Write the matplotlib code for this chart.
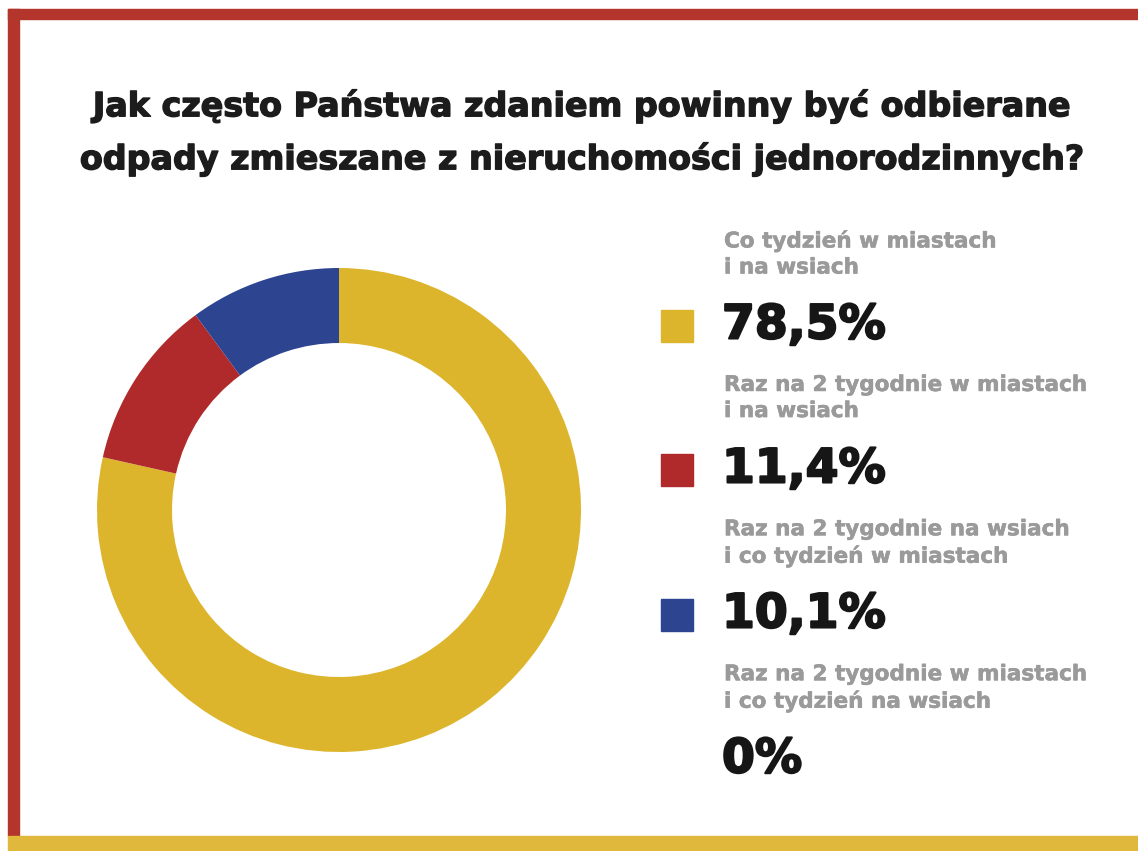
import matplotlib
matplotlib.use("Agg")
import matplotlib.pyplot as plt
from matplotlib.patches import Rectangle
import matplotlib.patheffects as pe

W, H = 1138, 851

title_lines = ["Jak często Państwa zdaniem powinny być odbierane",
               "odpady zmieszane z nieruchomości jednorodzinnych?"]
categories = ["Co tydzień w miastach\ni na wsiach",
              "Raz na 2 tygodnie w miastach\ni na wsiach",
              "Raz na 2 tygodnie na wsiach\ni co tydzień w miastach",
              "Raz na 2 tygodnie w miastach\ni co tydzień na wsiach"]
values = [78.5, 11.4, 10.1, 0.0]
value_labels = ["78,5%", "11,4%", "10,1%", "0%"]
colors = ["#DDB52D", "#B02A2B", "#2D4591", None]

FONT = ["DejaVu Sans"]

fig = plt.figure(figsize=(W / 100, H / 100), dpi=100)
fig.patch.set_facecolor("white")

def px(x, y):
    return x / W, 1 - y / H

# frame: red top and left, yellow bottom
fig.patches.append(Rectangle(px(8, 19), (W - 8) / W, 10 / H, transform=fig.transFigure,
                             color="#B3352B", zorder=0))
fig.patches.append(Rectangle(px(8, 836), 11 / W, 827 / H, transform=fig.transFigure,
                             color="#B3352B", zorder=0))
fig.patches.append(Rectangle(px(8, 851), (W - 8) / W, 15 / H, transform=fig.transFigure,
                             color="#E0B83B", zorder=0))

# title
for i, line in enumerate(title_lines):
    x, y = px(582, 106 + 53 * i)
    fig.text(x, y, line, ha="center", va="center", fontsize=24, fontweight="bold",
             color="#1c1c1c", family=FONT,
             path_effects=[pe.withStroke(linewidth=1.0, foreground="#1c1c1c")])

# donut
cx, cy, r = 339, 510, 242
ax = fig.add_axes([(cx - r) / W, 1 - (cy + r) / H, 2 * r / W, 2 * r / H])
nz = [(v, c) for v, c in zip(values, colors) if v > 0]
ax.pie([v for v, c in nz], colors=[c for v, c in nz], startangle=90, counterclock=False,
       radius=1.0, wedgeprops=dict(width=0.31, linewidth=0))
ax.set_xlim(-1, 1)
ax.set_ylim(-1, 1)
ax.set_aspect("equal")
ax.axis("off")

# legend
label_y = [254, 398, 543, 688]
for i, (cat, val, col) in enumerate(zip(categories, value_labels, colors)):
    ly = label_y[i]
    x, y = px(724, ly)
    fig.text(x, y, cat, ha="left", va="center", fontsize=15.5, fontweight="bold",
             color="#9A9A9A", family=FONT, linespacing=1.38,
             path_effects=[pe.withStroke(linewidth=0.4, foreground="#9A9A9A")])
    x, y = px(722, ly + 72)
    fig.text(x, y, val, ha="left", va="center", fontsize=34, fontweight="bold",
             color="#161616", family=FONT,
             path_effects=[pe.withStroke(linewidth=1.5, foreground="#161616")])
    if col is not None:
        fig.patches.append(Rectangle(px(661, ly + 88), 32 / W, 32 / H,
                                     transform=fig.transFigure, color=col, zorder=1))

fig.savefig("out.png", dpi=100, facecolor="white")
